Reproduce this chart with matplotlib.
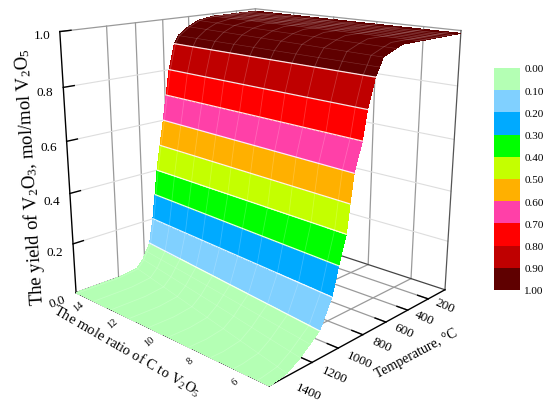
import numpy as np
import matplotlib
matplotlib.use('Agg')
import matplotlib.pyplot as plt
from matplotlib.colors import ListedColormap, BoundaryNorm, to_rgba_array
from matplotlib.cm import ScalarMappable
from mpl_toolkits.mplot3d import proj3d

plt.rcParams['font.family'] = ['Liberation Serif']
plt.rcParams['mathtext.fontset'] = 'custom'
plt.rcParams['mathtext.rm'] = 'Liberation Serif'
plt.rcParams['mathtext.default'] = 'rm'

# values
ratio = [4.52, 5, 6, 7, 8, 9, 10, 11, 12, 13, 14, 14.07]
yield_v2o3 = [0.99, 0.99, 0.98, 0.96, 0.93, 0.9, 0.8, 0.7, 0.6, 0.5,
              0.4, 0.3, 0.2, 0.1, 0.07, 0.04, 0.01, 0.0, 0.0]
temp_low_ratio = [229, 756, 810, 914, 940, 970, 1024, 1057, 1113, 1138,
                  1161, 1213, 1260, 1348, 1418, 1488, 1581, 1690, 1702]
temp_high_ratio = [229, 600, 722, 803, 885, 917, 963, 992, 1019, 1051,
                   1080, 1102, 1125, 1157, 1185, 1213, 1260, 1403, 1702]
top_mesh_temps = [300, 350, 400, 450, 500, 550, 600]
levels = [0.0, 0.1, 0.2, 0.3, 0.4, 0.5, 0.6, 0.7, 0.8, 0.9, 1.0]
band_colors = ['#B4FFB4', '#80D0FF', '#00AAFF', '#00FF00', '#C4FF00',
               '#FFB000', '#FF40A8', '#FF0000', '#BF0000', '#5F0000']
ratio_ticks = [6, 8, 10, 12]
temp_ticks = [400, 600, 800, 1000, 1200, 1400]
z_ticks = [0.2, 0.4, 0.6, 0.8, 1.0]

x0, x1 = 4.52, 14.07
y0, y1 = 229, 1702

fig = plt.figure(figsize=(5.5, 4.02), dpi=100)
ax = fig.add_axes([26.9/550, 0.1/402, 456.3/550, 456.3/402], projection='3d')
ax.computed_zorder = False
ax.view_init(elev=16.223, azim=133.445)
ax.set_proj_type('persp', focal_length=0.365)
ax.set_box_aspect((0.700, 0.689, 0.691))
ax.set_xlim(x0, x1)
ax.set_ylim(y0, y1)
ax.set_zlim(0, 1)
ax.set_axis_off()


def label3d(x, y, z, s, dx, dy, **kw):
    # Text3D ignores rotation, so project the point and annotate in 2D
    xv, yv, _ = proj3d.proj_transform(x, y, z, ax.get_proj())
    ax.annotate(s, (xv, yv), xytext=(dx, dy), textcoords='offset pixels', ha='center', va='center',
                annotation_clip=False, zorder=6, **kw)


dark = '#9a9a9a'
light = '#dddddd'

# walls and floor
for t in temp_ticks:
    ax.plot([x1, x1], [t, t], [0, 1], color=dark, lw=0.9, zorder=1)
    ax.plot([x0, x1], [t, t], [0, 0], color=dark, lw=0.9, zorder=1)
for r in ratio_ticks:
    ax.plot([r, r], [y0, y0], [0, 1], color=dark, lw=0.9, zorder=1)
    ax.plot([r, r], [y0, y1], [0, 0], color=dark, lw=0.9, zorder=1)
for z in z_ticks[:-1]:
    ax.plot([x1, x1], [y0, y1], [z, z], color=light, lw=0.8, zorder=1)
    ax.plot([x0, x1], [y0, y0], [z, z], color=light, lw=0.8, zorder=1)
ax.plot([x1, x1], [y0, y1], [1, 1], color=dark, lw=0.9, zorder=1)
ax.plot([x0, x1], [y0, y0], [1, 1], color=dark, lw=0.9, zorder=1)
ax.plot([x1, x1], [y0, y0], [0, 1], color=dark, lw=0.9, zorder=1)
ax.plot([x0, x0], [y0, y0], [0, 1], color='#555555', lw=0.9, zorder=1)
ax.plot([x1, x1], [y0, y1], [0, 0], color='#444444', lw=0.9, zorder=1)
ax.plot([x0, x1], [y0, y0], [0, 0], color='#444444', lw=0.9, zorder=1)

# front axes
ax.plot([x0, x1], [y1, y1], [0, 0], color='black', lw=1.0, zorder=2)
ax.plot([x0, x0], [y0, y1], [0, 0], color='black', lw=1.0, zorder=2)
ax.plot([x1, x1], [y1, y1], [0, 1], color='black', lw=1.0, zorder=2)
for t in temp_ticks:
    ax.plot([x0, x0 + 0.45], [t, t], [0, 0], color='black', lw=1.0, zorder=2)
for r in ratio_ticks:
    ax.plot([r, r], [y1, y1 - 70], [0, 0], color='black', lw=1.0, zorder=2)
for z in z_ticks:
    ax.plot([x1, x1], [y1, y1 - 70], [z, z], color='black', lw=1.0, zorder=2)

# surface, one row per contour level across the ratio range
t_low = np.array(temp_low_ratio, float)
t_high = np.array(temp_high_ratio, float)
frac = (np.array(ratio) - x0)/(x1 - x0)
X = np.tile(np.array(ratio), (len(yield_v2o3), 1))
Y = t_low[:, None] + (t_high - t_low)[:, None]*frac[None, :]
Z = np.tile(np.array(yield_v2o3)[:, None], (1, len(ratio)))
mids = 0.5*(Z[:-1, :-1] + Z[1:, 1:])
idx = np.clip((mids*10).astype(int), 0, 9)
rgba = np.zeros(Z.shape + (4,))
rgba[:-1, :-1] = to_rgba_array(band_colors)[idx]
ax.plot_surface(X, Y, Z, rstride=1, cstride=1, facecolors=rgba, shade=False,
                linewidth=0, edgecolor='none', antialiased=False, zorder=3)

# mesh and contour lines on the surface
for j in range(1, len(ratio) - 1):
    ax.plot(X[:, j], Y[:, j], Z[:, j], color='white', alpha=0.2, lw=0.6, zorder=4)
for i, z in enumerate(yield_v2o3):
    if abs(z*10 - round(z*10)) < 1e-6 and 0 < z < 1:
        ax.plot(X[i], Y[i], Z[i], color='white', lw=0.9, alpha=0.9, zorder=4)
    elif 0 < z < 0.99:
        ax.plot(X[i], Y[i], Z[i], color='white', lw=0.4, alpha=0.2, zorder=4)
for t in top_mesh_temps:
    ax.plot([x0, x1], [t, t], [0.99, 0.99], color='white', lw=0.4, alpha=0.3, zorder=4)

# tick labels
for t in temp_ticks:
    label3d(x0, t, 0, str(t), -4, -(16 + (t - 200)/1200*13), fontsize=9.5, rotation=-24)
label3d(x0, y0, 0, '200', 0, -16, fontsize=9.5, rotation=-24)
for r in ratio_ticks + [14]:
    label3d(r, y1, 0, str(r), 1, -13, fontsize=7.5, rotation=40)
for z in z_ticks:
    label3d(x1, y1, z, '%.1f' % z, -18, -(3 + (1 - z)*7), fontsize=9.5)
label3d(x1, y1, 0, '0.0', -19, -9, fontsize=9.5, rotation=20)

# axis titles
fig.text(127/550, 1 - 351/402, r'The mole ratio of C to V$_2$O$_5$', fontsize=10.5,
         rotation=-30, ha='center', va='center')
fig.text(416/550, 1 - 354/402, 'Temperature, °C', fontsize=10, rotation=28, ha='center', va='center')
fig.text(30/550, 1 - 177/402, r'The yield of V$_2$O$_3$, mol/mol V$_2$O$_5$', fontsize=13.5,
         rotation=93.6, ha='center', va='center')

# colour scale
cax = fig.add_axes([494/550, 1 - 291/402, 26/550, 222/402])
norm = BoundaryNorm(levels, len(band_colors))
cb = fig.colorbar(ScalarMappable(norm=norm, cmap=ListedColormap(band_colors)), cax=cax,
                  ticks=levels, spacing='proportional')
cb.ax.set_yticklabels(['%.2f' % v for v in levels])
cb.ax.invert_yaxis()
cb.ax.tick_params(length=0, labelsize=8, pad=3)
cb.outline.set_visible(False)

fig.savefig('out.png', dpi=100)
